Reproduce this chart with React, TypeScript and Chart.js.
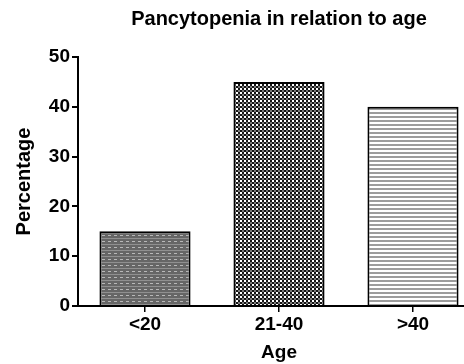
import React, { useEffect, useRef } from "react";
import { Chart, registerables } from "chart.js";

Chart.register(...registerables);

const categories = ["<20", "21-40", ">40"];
const percentages = [15, 45, 40];
const yTicks = [0, 10, 20, 30, 40, 50];
const titleText = "Pancytopenia in relation to age";
const xTitle = "Age";
const yTitle = "Percentage";

function makePattern(kind: number): CanvasPattern | string {
  const c = document.createElement("canvas");
  const ctx = c.getContext("2d");
  if (!ctx) return "#888";
  if (kind === 0) {
    c.width = 6; c.height = 6;
    ctx.fillStyle = "#666666"; ctx.fillRect(0, 0, 6, 6);
    ctx.fillStyle = "#b8b8b8"; ctx.fillRect(0, 1, 3, 1);
    ctx.fillStyle = "#909090"; ctx.fillRect(0, 4, 6, 1);
  } else if (kind === 1) {
    c.width = 4; c.height = 4;
    ctx.fillStyle = "#151515"; ctx.fillRect(0, 0, 4, 4);
    ctx.fillStyle = "#ffffff"; ctx.fillRect(0, 0, 2, 2);
    ctx.fillStyle = "#7a7a7a"; ctx.fillRect(2, 2, 2, 2);
  } else {
    c.width = 4; c.height = 4;
    ctx.fillStyle = "#ffffff"; ctx.fillRect(0, 0, 4, 4);
    ctx.fillStyle = "#9c9c9c"; ctx.fillRect(0, 0, 4, 2);
  }
  const p = ctx.createPattern(c, "repeat");
  return p || "#888";
}

const FONT = "'Liberation Sans', Arial, sans-serif";

export default function App() {
  const ref = useRef<HTMLCanvasElement>(null);
  useEffect(() => {
    if (!ref.current) return;
    const fills = categories.map((_, i) => makePattern(i));
    const chart = new Chart(ref.current, {
      type: "bar",
      data: {
        labels: categories,
        datasets: [
          {
            data: percentages,
            backgroundColor: fills as any,
            borderColor: "#000",
            borderWidth: 2,
            barPercentage: 0.68,
            categoryPercentage: 1,
          },
        ],
      },
      options: {
        responsive: false,
        animation: false,
        layout: { padding: { left: 0, right: 10, top: 0, bottom: 0 } },
        plugins: {
          legend: { display: false },
          tooltip: { enabled: false },
          title: {
            display: true,
            text: titleText,
            fullSize: false,
            color: "#000",
            font: { family: FONT, size: 20, weight: "bold" },
            padding: { top: 7, bottom: 26 },
          },
        },
        scales: {
          x: {
            offset: true,
            grid: {
              offset: false,
              drawOnChartArea: false,
              drawTicks: true,
              tickLength: 6,
              tickColor: "#000",
              lineWidth: 1.5,
            },
            border: { display: true, color: "#000", width: 2 },
            ticks: {
              color: "#000",
              padding: 1,
              font: { family: FONT, size: 19, weight: "bold" },
            },
            title: {
              display: true,
              text: xTitle,
              color: "#000",
              font: { family: FONT, size: 19, weight: "bold" },
              padding: { top: 0, bottom: 0 },
            },
            afterFit: (s: any) => { s.height = 58; },
          },
          y: {
            min: 0,
            max: 50,
            afterBuildTicks: (s: any) => { s.ticks = yTicks.map((v) => ({ value: v })); },
            grid: {
              drawOnChartArea: false,
              drawTicks: true,
              tickLength: 6,
              tickColor: "#000",
              lineWidth: 2,
            },
            border: { display: true, color: "#000", width: 2 },
            ticks: {
              color: "#000",
              padding: 2,
              font: { family: FONT, size: 19, weight: "bold" },
            },
            title: {
              display: true,
              text: yTitle,
              color: "#000",
              font: { family: FONT, size: 20, weight: "bold" },
              padding: { top: 12, bottom: 0 },
            },
            afterFit: (s: any) => { s.width = 78; },
          },
        },
      },
    });
    return () => chart.destroy();
  }, []);
  return (
    <div style={{ position: "fixed", left: 0, top: 0, width: 464, height: 364, overflow: "hidden", background: "#fff" }}>
      <canvas ref={ref} width={490} height={364} style={{ display: "block" }} />
    </div>
  );
}
